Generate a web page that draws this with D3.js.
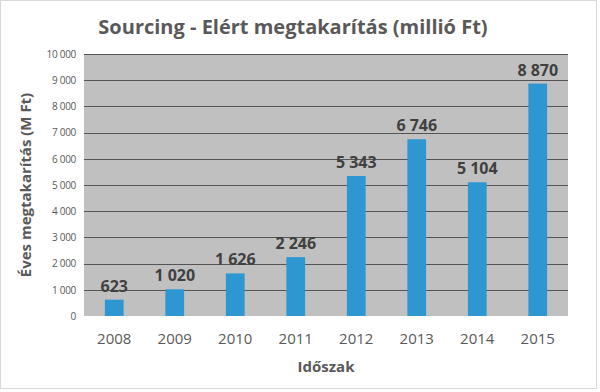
<!DOCTYPE html>
<html>
<head>
<meta charset="utf-8">
<script src="https://cdn.jsdelivr.net/npm/d3@7"></script>
<style>
  body { margin: 0; background: #fff; }
  svg text { font-family: "Open Sans", "Noto Sans", sans-serif; }
</style>
</head>
<body>
<div id="chart"></div>
<script>
'use strict';

var years = ['2008', '2009', '2010', '2011', '2012', '2013', '2014', '2015'];
var savings = [623, 1020, 1626, 2246, 5343, 6746, 5104, 8870];
var yTicks = [0, 1000, 2000, 3000, 4000, 5000, 6000, 7000, 8000, 9000, 10000];

var width = 600, height = 392;
var margin = {top: 54, right: 32, bottom: 76, left: 84};
var innerW = width - margin.left - margin.right;
var innerH = height - margin.top - margin.bottom;

var fmt = function(v) {
  return d3.format(',')(v).replace(/,/g, ' ');
};

var svg = d3.select('#chart').append('svg')
  .attr('width', width)
  .attr('height', height);

// outer frame
svg.append('rect')
  .attr('x', 0.5).attr('y', 0.5)
  .attr('width', width - 4).attr('height', height - 4)
  .attr('fill', '#fff')
  .attr('stroke', '#d9d9d9');

var g = svg.append('g')
  .attr('transform', 'translate(' + margin.left + ',' + margin.top + ')');

var x = d3.scaleBand()
  .domain(years)
  .range([0, innerW])
  .paddingInner(0.69)
  .paddingOuter(0.345);

var y = d3.scaleLinear()
  .domain([0, 10000])
  .range([innerH, 0]);

g.append('rect')
  .attr('width', innerW)
  .attr('height', innerH)
  .attr('fill', '#c0c0c0');

// gridlines
g.selectAll('.grid')
  .data(yTicks.filter(function(d) { return d > 0; }))
  .enter()
  .append('line')
  .attr('x1', 0).attr('x2', innerW)
  .attr('y1', function(d) { return Math.round(y(d)) + 0.5; })
  .attr('y2', function(d) { return Math.round(y(d)) + 0.5; })
  .attr('stroke', '#555')
  .attr('stroke-width', 1);

var yAxis = g.append('g')
  .call(d3.axisLeft(y).tickValues(yTicks).tickSize(0).tickPadding(8).tickFormat(fmt));
yAxis.select('.domain').remove();
yAxis.selectAll('text')
  .attr('fill', '#595959')
  .style('font-size', '10px')
  .style('letter-spacing', '-0.3px');

var xAxis = g.append('g')
  .attr('transform', 'translate(0,' + innerH + ')')
  .call(d3.axisBottom(x).tickSize(0).tickPadding(17));
xAxis.select('.domain').remove();
xAxis.selectAll('text')
  .attr('fill', '#595959')
  .style('font-size', '15px');

var data = years.map(function(d, i) { return {year: d, value: savings[i]}; });

g.selectAll('.bar')
  .data(data)
  .enter()
  .append('rect')
  .attr('x', function(d) { return x(d.year); })
  .attr('width', x.bandwidth())
  .attr('y', function(d) { return y(d.value); })
  .attr('height', function(d) { return innerH - y(d.value); })
  .attr('fill', '#2e97d1');

g.selectAll('.val')
  .data(data)
  .enter()
  .append('text')
  .attr('x', function(d) { return x(d.year) + x.bandwidth() / 2; })
  .attr('y', function(d) { return y(d.value) - 8; })
  .attr('text-anchor', 'middle')
  .attr('fill', '#404040')
  .style('font-size', '16px')
  .style('font-weight', 'bold')
  .text(function(d) { return fmt(d.value); });

svg.append('text')
  .attr('x', 293)
  .attr('y', 34)
  .attr('text-anchor', 'middle')
  .attr('fill', '#595959')
  .style('font-size', '20px')
  .style('font-weight', 'bold')
  .text('Sourcing - Elért megtakarítás (millió Ft)');

svg.append('text')
  .attr('x', margin.left + innerW / 2)
  .attr('y', 372)
  .attr('text-anchor', 'middle')
  .attr('fill', '#595959')
  .style('font-size', '15px')
  .style('font-weight', 'bold')
  .text('Időszak');

svg.append('text')
  .attr('transform', 'translate(31,' + (margin.top + innerH / 2) + ') rotate(-90)')
  .attr('text-anchor', 'middle')
  .attr('fill', '#595959')
  .style('font-size', '15px')
  .style('font-weight', 'bold')
  .text('Éves megtakarítás (M Ft)');
</script>
</body>
</html>
